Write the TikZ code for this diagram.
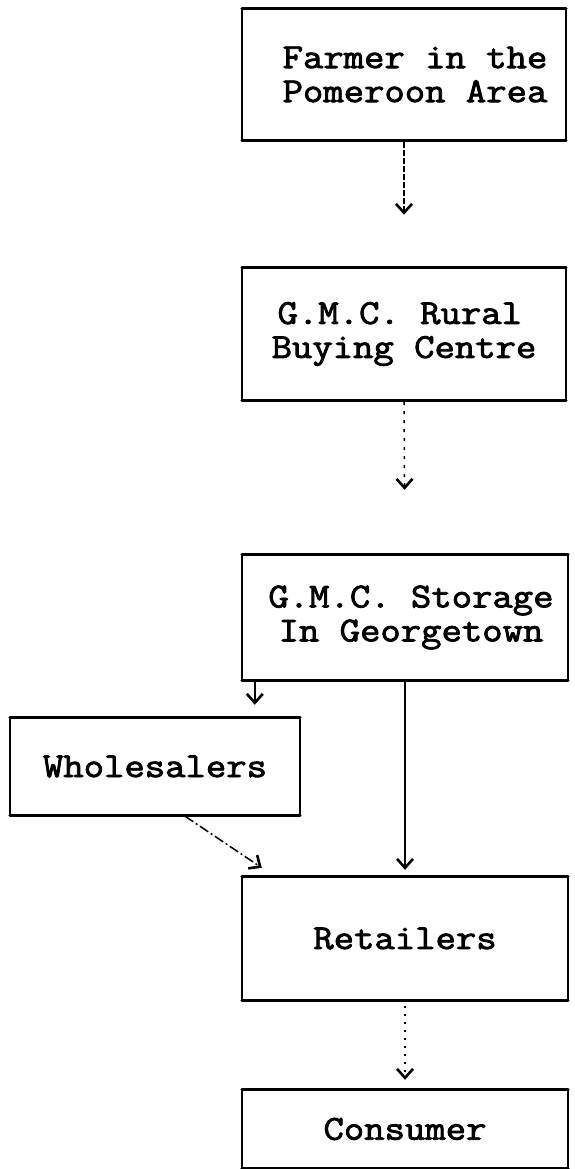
\documentclass[tikz,border=0pt]{standalone}
\usepackage{fontspec}
\newfontfamily\tw[FakeStretch=1.13, FakeBold=2.4]{Latin Modern Mono}
\usetikzlibrary{arrows.meta,calc}
\begin{document}
\begin{tikzpicture}[x=1pt,y=-1pt,
  box/.style={draw=none, minimum width=324pt, inner sep=0pt,
    font=\tw\fontsize{35}{34}\selectfont, align=center},
  hline/.style={line width=2.8pt, line cap=round},
  vline/.style={line width=1.6pt},
  conn/.style={line width=1.5pt, -{Straight Barb[length=9pt,width=16pt,line width=2.6pt]}}
]
\useasboundingbox[fill=white] (0,0) rectangle (575,1169);
\node[box, minimum height=131pt] (b1) at (404,74.5) {\hspace*{22pt}Farmer in the\\\hspace*{22pt}Pomeroon Area};
\node[box, minimum height=132pt, align=left] (b2) at (404,334) {\hspace*{6pt}G.M.C. Rural\\Buying Centre};
\node[box, minimum height=125pt, minimum width=326pt] (b3) at (405,617.5) {\hspace*{12pt}G.M.C. Storage\\\hspace*{12pt}In Georgetown};
\node[box, minimum height=97pt, minimum width=290pt] (w) at (155,766.5) {Wholesalers};
\node[box, minimum height=123pt, minimum width=326pt] (r) at (405,938.5) {Retailers};
\node[box, minimum height=78pt, minimum width=326pt] (c) at (405,1129) {Consumer};
\foreach \n in {b1,b2,b3,w,r,c}{
  \draw[hline] (\n.north west) -- (\n.north east);
  \draw[hline] (\n.south west) -- (\n.south east);
  \draw[vline] (\n.north west) -- (\n.south west);
  \draw[vline] (\n.north east) -- (\n.south east);
}
\draw[conn, dash pattern=on 6pt off 2pt, shorten <=2pt, shorten >=53pt] (b1.south) -- (b2.north);
\draw[conn, dash pattern=on 3pt off 6pt, shorten <=2pt, shorten >=65pt] (b2.south) -- (b3.north);
\draw[conn, shorten <=1pt, shorten >=13pt] ([xshift=13pt]b3.south west) -- ([xshift=13pt]b3.south west |- w.north);
\draw[conn, shorten <=1pt, shorten >=7pt] (b3.south) -- (r.north);
\draw[conn, dash pattern=on 10pt off 3pt on 2pt off 3pt] ([xshift=30pt,yshift=-1pt]w.south) -- ([xshift=20pt,yshift=9pt]r.north west);
\draw[conn, dash pattern=on 2pt off 6pt, shorten <=6pt, shorten >=10pt] (r.south) -- (c.north);
\end{tikzpicture}
\end{document}
